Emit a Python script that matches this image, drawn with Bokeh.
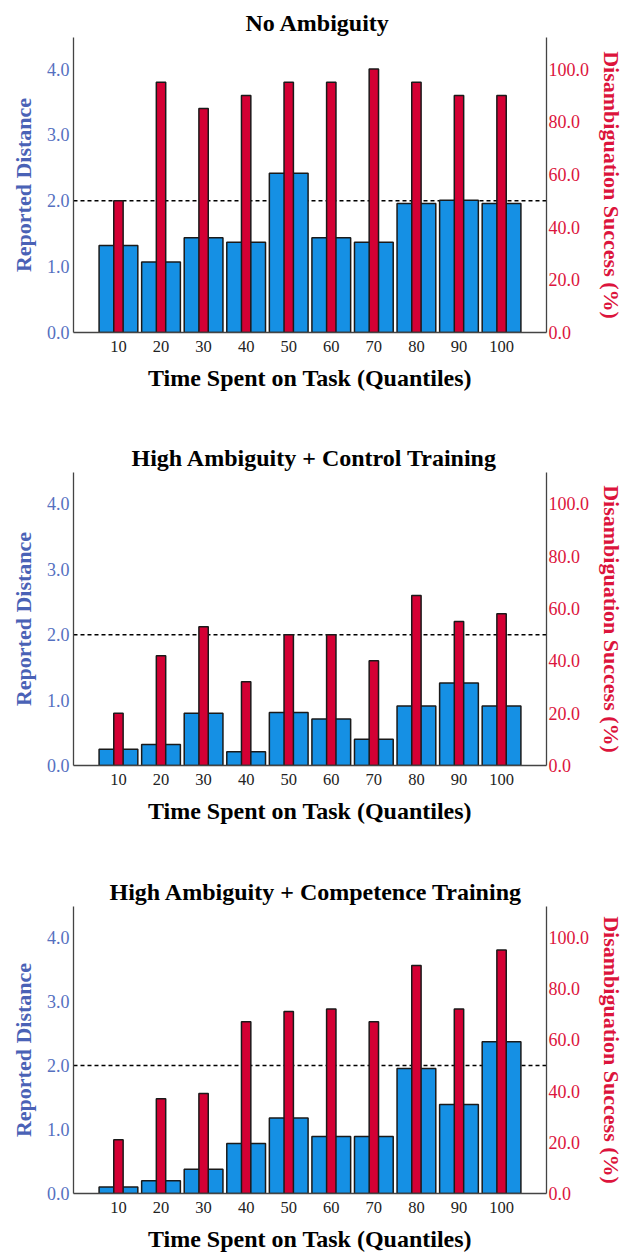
from bokeh.plotting import figure
from bokeh.models import Range1d, LinearAxis, FactorRange, FixedTicker, PrintfTickFormatter, Span
from bokeh.layouts import column
from bokeh.embed import file_html
from bokeh.resources import INLINE

# ---------------- data ----------------
quantiles = ["10", "20", "30", "40", "50", "60", "70", "80", "90", "100"]

title_none = "No Ambiguity"
title_ctrl = "High Ambiguity + Control Training"
title_comp = "High Ambiguity + Competence Training"

distance_none = [1.32, 1.07, 1.44, 1.37, 2.42, 1.44, 1.37, 1.96, 2.01, 1.96]
success_none = [50, 95, 85, 90, 95, 95, 100, 95, 90, 90]

distance_ctrl = [0.25, 0.32, 0.80, 0.21, 0.81, 0.71, 0.40, 0.91, 1.26, 0.91]
success_ctrl = [20, 42, 53, 32, 50, 50, 40, 65, 55, 58]

distance_comp = [0.10, 0.20, 0.38, 0.78, 1.18, 0.89, 0.89, 1.95, 1.39, 2.37]
success_comp = [21, 37, 39, 67, 71, 72, 67, 89, 72, 95]

threshold = 2.0
left_ticks = [0, 1, 2, 3, 4]
right_ticks = [0, 20, 40, 60, 80, 100]

# ---------------- style ----------------
SERIF = "Liberation Serif"
BLUE_FILL = "#1590E4"
RED_FILL = "#D40034"
EDGE = "#1a1a1a"
AXIS_COL = "#444444"
LEFT_TICK_COL = "#5570BF"
LEFT_LABEL_COL = "#4A62B6"
RIGHT_COL = "#DC143C"


def make_panel(title, dist, succ, height, top, bottom, title_offset):
    p = figure(
        width=627, height=height,
        x_range=FactorRange(factors=quantiles, range_padding=0.556,
                            range_padding_units="absolute"),
        y_range=Range1d(0, 4.48),
        output_backend="svg", toolbar_location=None,
        min_border_left=73, min_border_right=81,
        min_border_top=top, min_border_bottom=bottom,
    )
    p.extra_y_ranges = {"right": Range1d(0, 112)}
    p.outline_line_color = None
    p.xgrid.visible = False
    p.ygrid.visible = False
    p.background_fill_color = "white"
    p.border_fill_color = "white"

    p.title.text = title
    p.title.text_font = SERIF
    p.title.text_font_size = "24px"
    p.title.text_font_style = "bold"
    p.title.text_color = "black"
    p.title.align = "left"
    p.title.offset = title_offset
    p.title.standoff = 3

    xa = p.xaxis[0]
    xa.axis_label = "Time Spent on Task (Quantiles)"
    xa.axis_label_text_font = SERIF
    xa.axis_label_text_font_size = "24px"
    xa.axis_label_text_font_style = "bold"
    xa.axis_label_text_color = "black"
    xa.axis_label_standoff = 10
    xa.major_label_text_font = SERIF
    xa.major_label_text_font_size = "16.5px"
    xa.major_label_text_color = "#222222"
    xa.major_label_standoff = 8
    xa.major_tick_out = 0
    xa.major_tick_in = 0
    xa.major_tick_line_color = None
    xa.minor_tick_line_color = None
    xa.axis_line_color = AXIS_COL
    xa.axis_line_width = 1.3

    ya = p.yaxis[0]
    ya.ticker = FixedTicker(ticks=left_ticks)
    ya.formatter = PrintfTickFormatter(format="%.1f")
    ya.axis_label = "Reported Distance"
    ya.axis_label_text_font = SERIF
    ya.axis_label_text_font_size = "22px"
    ya.axis_label_text_font_style = "bold"
    ya.axis_label_text_color = LEFT_LABEL_COL
    ya.axis_label_standoff = 8
    ya.major_label_text_font = SERIF
    ya.major_label_text_font_size = "18px"
    ya.major_label_text_color = LEFT_TICK_COL
    ya.major_label_standoff = 4
    ya.major_tick_out = 0
    ya.major_tick_in = 0
    ya.minor_tick_out = 0
    ya.minor_tick_in = 0
    ya.major_tick_line_color = None
    ya.minor_tick_line_color = None
    ya.axis_line_color = AXIS_COL
    ya.axis_line_width = 1.3

    ra = LinearAxis(
        y_range_name="right",
        ticker=FixedTicker(ticks=right_ticks),
        formatter=PrintfTickFormatter(format="%.1f"),
        axis_label="Disambiguation Success (%)",
        axis_label_text_font=SERIF,
        axis_label_text_font_size="22px",
        axis_label_text_font_style="bold",
        axis_label_text_color=RIGHT_COL,
        axis_label_standoff=7,
        major_label_text_font=SERIF,
        major_label_text_font_size="18px",
        major_label_text_color=RIGHT_COL,
        major_label_standoff=2,
        major_tick_out=0,
        major_tick_in=0,
        minor_tick_out=0,
        minor_tick_in=0,
        major_tick_line_color=None,
        minor_tick_line_color=None,
        axis_line_color=AXIS_COL,
        axis_line_width=1.3,
    )
    p.add_layout(ra, "right")

    p.add_layout(Span(location=threshold, dimension="width", line_color="black",
                      line_width=1.5, line_dash="4 3", level="underlay"))

    p.vbar(x=quantiles, top=dist, width=0.91, fill_color=BLUE_FILL,
           line_color=EDGE, line_width=1.5)
    p.vbar(x=quantiles, top=succ, width=0.22, y_range_name="right",
           fill_color=RED_FILL, line_color=EDGE, line_width=1.5)
    return p


p1 = make_panel(title_none, distance_none, success_none, 428, 37, 96, 172)
p2 = make_panel(title_ctrl, distance_ctrl, success_ctrl, 432, 44, 95, 58)
p3 = make_panel(title_comp, distance_comp, success_comp, 394, 46, 59, 36)

layout = column(p1, p2, p3, spacing=0)

with open("out.html", "w") as f:
    f.write(file_html(layout, INLINE))
